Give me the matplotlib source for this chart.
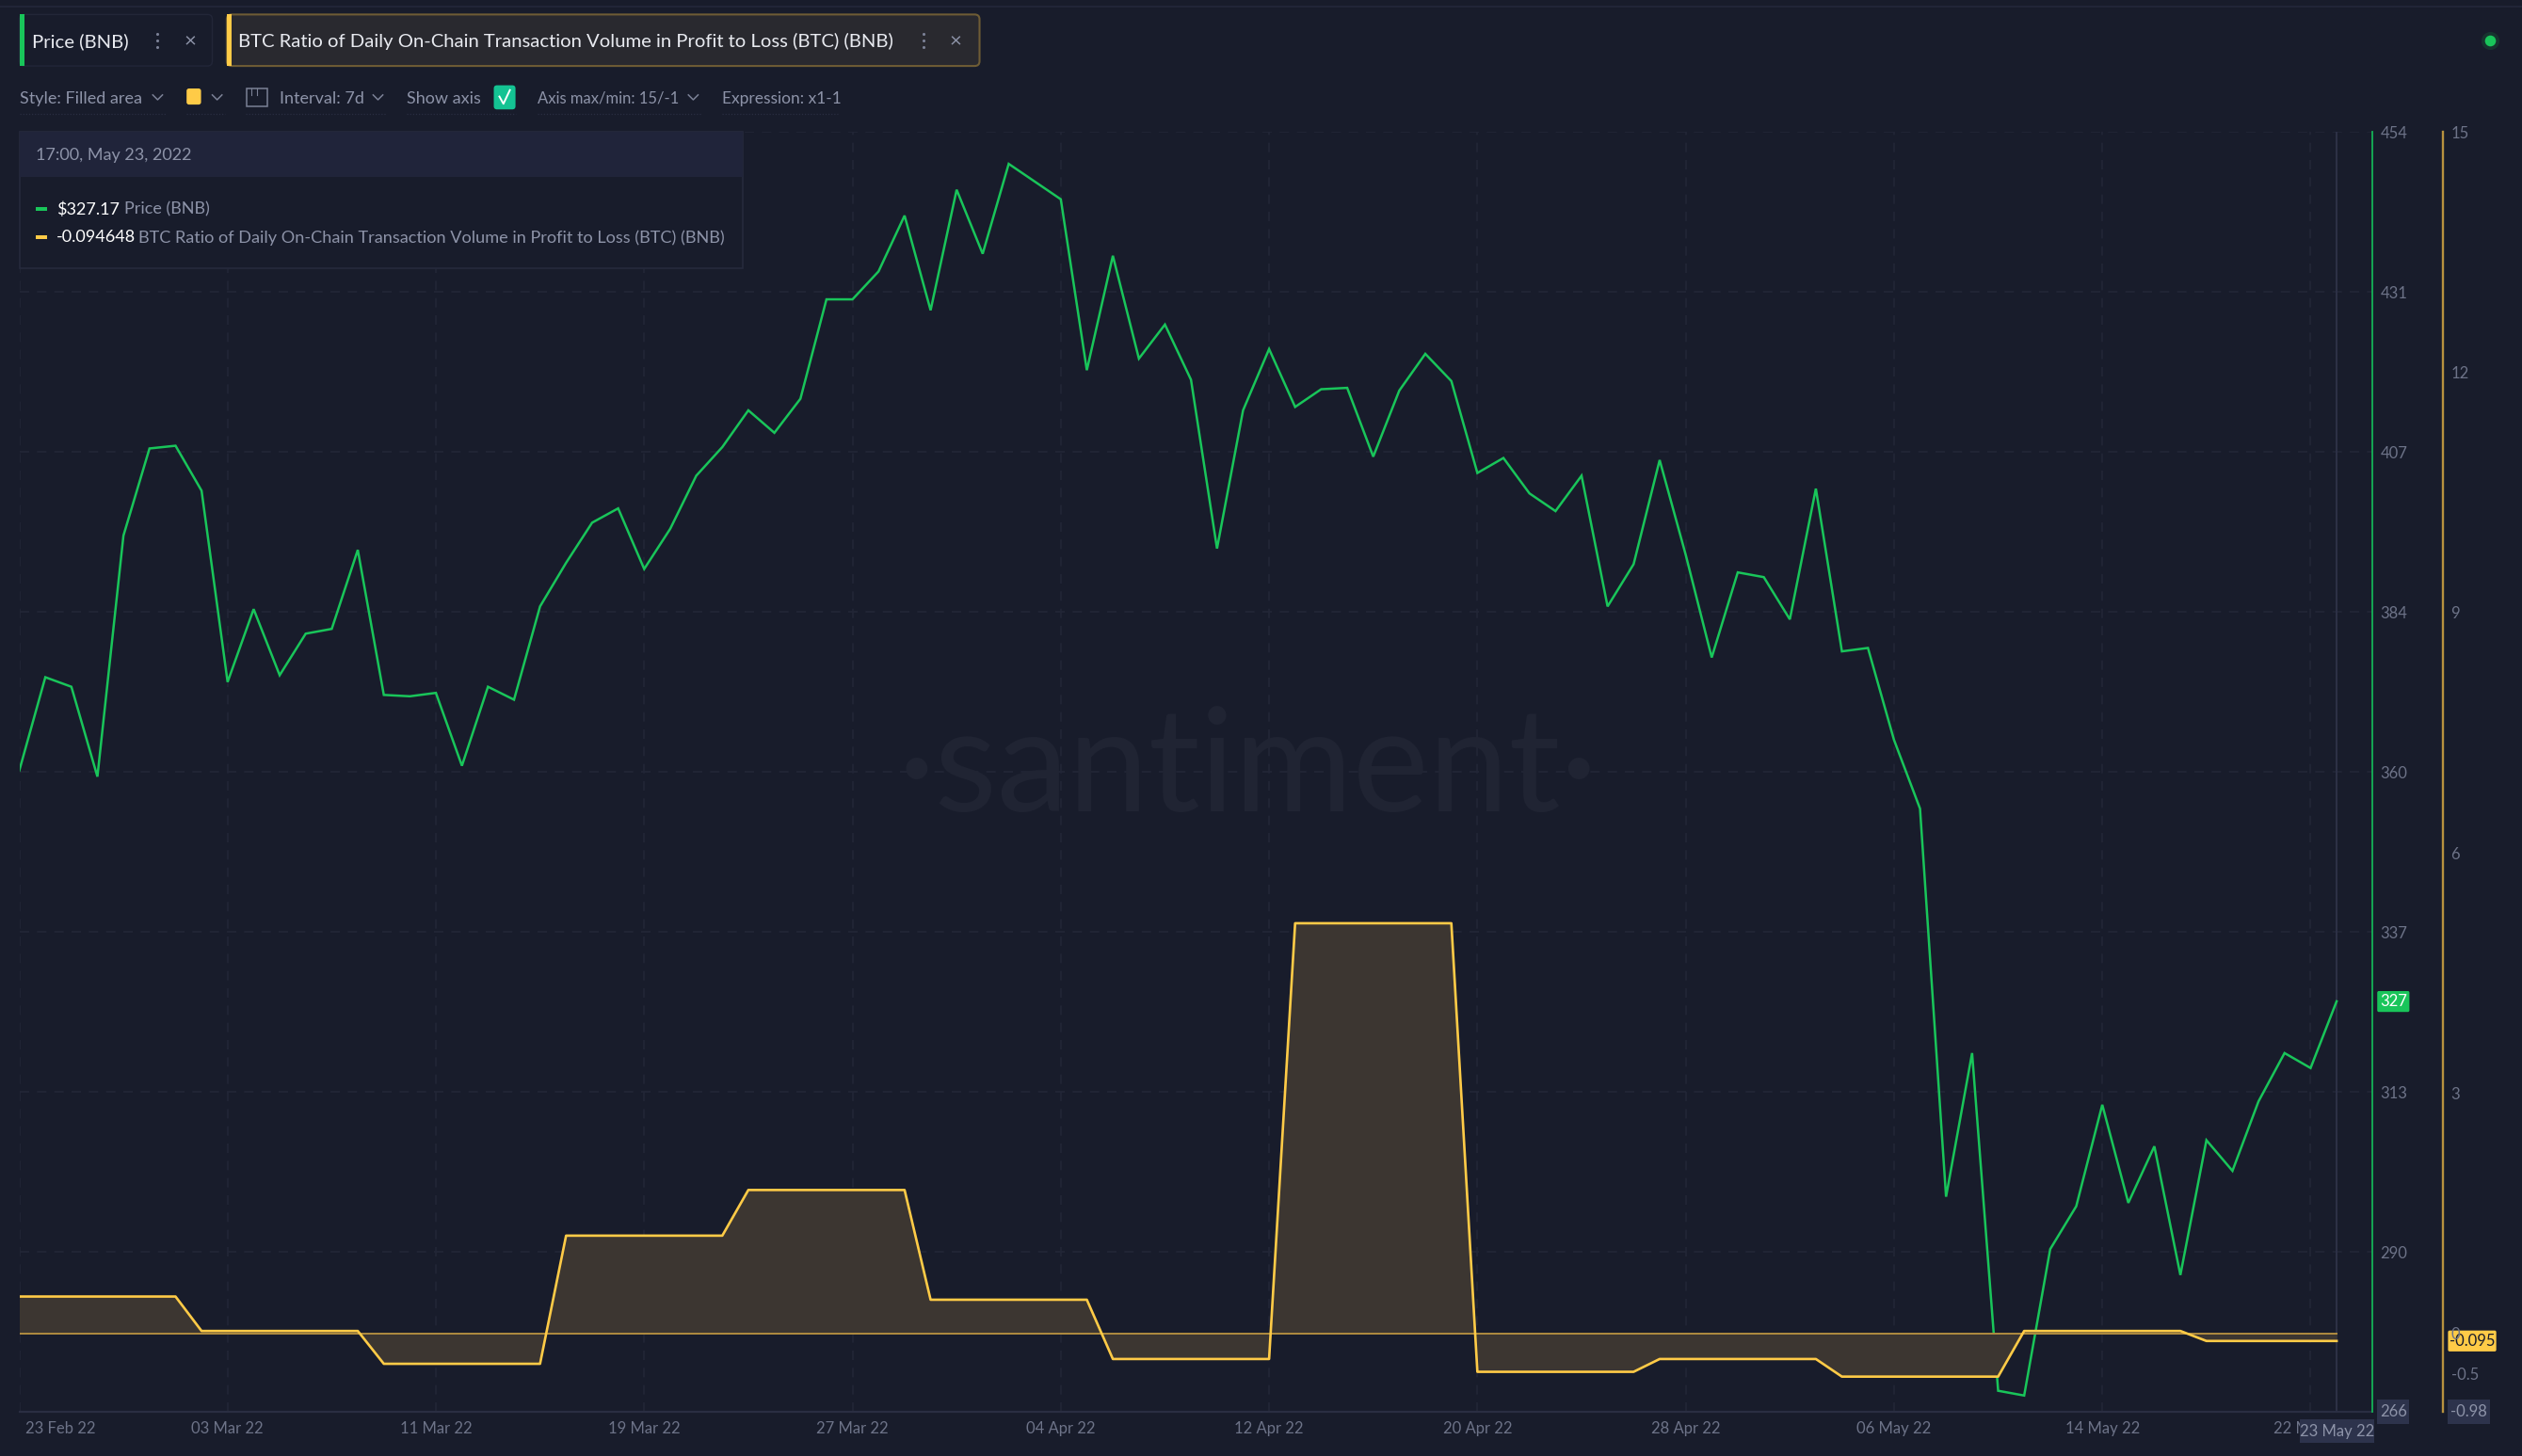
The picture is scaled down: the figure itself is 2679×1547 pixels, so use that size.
import matplotlib
matplotlib.use('Agg')
import matplotlib.pyplot as plt
from matplotlib.patches import FancyBboxPatch, Rectangle
from matplotlib.transforms import ScaledTranslation
import numpy as np
import pandas as pd

plt.rcParams['font.family'] = ['Lato', 'Liberation Sans', 'DejaVu Sans']

# daily BNB price
price = [360.2, 373.9, 372.5, 359.3, 394.7, 407.5, 407.9, 401.3, 373.2, 383.9,
         374.2, 380.3, 381.0, 392.6, 371.3, 371.1, 371.6, 360.9, 372.5, 370.6,
         384.3, 390.7, 396.6, 398.7, 389.8, 395.7, 403.5, 407.7, 413.1, 409.8,
         414.8, 429.4, 429.4, 433.5, 441.7, 427.8, 445.5, 436.1, 449.3, 446.7,
         444.1, 419.0, 435.8, 420.7, 425.7, 417.6, 392.8, 413.1, 422.1, 413.6,
         416.2, 416.4, 406.3, 416.0, 421.4, 417.4, 403.9, 406.1, 400.9, 398.3,
         403.5, 384.3, 390.5, 405.8, 391.9, 376.8, 389.3, 388.6, 382.4, 401.6,
         377.7, 378.2, 364.7, 354.6, 297.6, 318.7, 269.1, 268.4, 289.9, 296.2,
         311.1, 296.7, 305.0, 286.1, 305.9, 301.4, 311.6, 318.7, 316.5, 326.3]
# weekly ratio values (interval 7d, expression x1-1)
ratio_weekly = [0.46, 0.03, -0.38, 1.22, 1.79, 0.42, -0.32, 5.12, -0.48, -0.32, -0.54, 0.03, -0.095]

dates = pd.date_range('2022-02-23', periods=len(price), freq='D')
ratio = np.repeat(ratio_weekly, 7)[:len(price)]

price_ticks = [454, 430.5, 407, 383.5, 360, 336.5, 313, 289.5]
price_labels = ['454', '431', '407', '384', '360', '337', '313', '290']
ratio_ticks = [15, 12, 9, 6, 3, 0, -0.5]
ratio_labels = ['15', '12', '9', '6', '3', '0', '-0.5']
date_ticks = pd.date_range('2022-02-23', '2022-05-23', freq='8D')
date_labels = [d.strftime('%d %b %y') for d in date_ticks]

BG = '#181c2b'
GRID = '#222637'
TXT = '#6d7388'
GREEN = '#19c55a'
YELLOW = '#ffcb47'
W, H = 2679, 1547
S = W / 1568  # the chrome below is laid out in 1568 wide coordinates

fig = plt.figure(figsize=(W / 100, H / 100), dpi=100, facecolor=BG)
ax = fig.add_axes([12 * S / W, 1 - 878 * S / H, (1475 - 12) * S / W, (878 - 82) * S / H], facecolor=BG)
ax2 = ax.twinx()
ax2.set_zorder(ax.get_zorder() + 1)
ax2.patch.set_visible(False)

ax.set_xlim(dates[0], dates[-1] + pd.Timedelta(hours=33))
ax.set_ylim(266, 454)
ax2.set_ylim(-0.98, 15)

ax.plot(dates, price, color=GREEN, lw=1.8, solid_joinstyle='miter', zorder=3)
ax2.fill_between(dates, 0, ratio, color='#3c3631', lw=0, zorder=1)
ax2.plot(dates, np.zeros(len(dates)), color='#b08c40', lw=1.4, zorder=2)
ax2.plot(dates, ratio, color=YELLOW, lw=1.9, zorder=3)
ax.axvline(dates[-1], color='#2d3146', lw=1.4, zorder=2)

ax.yaxis.tick_right()
ax.set_yticks(price_ticks, price_labels)
ax2.set_yticks(ratio_ticks, ratio_labels)
ax.set_xticks(date_ticks, date_labels)
ax.tick_params(axis='y', length=0, pad=6, labelsize=12, labelcolor=TXT)
ax2.tick_params(axis='y', length=0, pad=6, labelsize=12, labelcolor=TXT)
ax.tick_params(axis='x', length=0, pad=7, labelsize=12, labelcolor=TXT)
first = ax.get_xticklabels()[0]
first.set_ha('left')
first.set_transform(first.get_transform() + ScaledTranslation(5 / 72, 0, fig.dpi_scale_trans))
ax.grid(True, color=GRID, lw=1.2, ls=(0, (6, 5)))
ax.set_axisbelow(True)

for a in (ax, ax2):
    for s in ('top', 'left'):
        a.spines[s].set_visible(False)
ax.spines['bottom'].set_color('#2a2e42')
ax.spines['bottom'].set_linewidth(1.6)
ax2.spines['bottom'].set_visible(False)
ax.spines['right'].set_color('#14b257')
ax.spines['right'].set_linewidth(1.3)
ax.spines['right'].set_zorder(5)
ax2.spines['right'].set_visible(True)
ax2.spines['right'].set_position(('outward', 44 * S * 0.72))
ax2.spines['right'].set_color('#b8923f')
ax2.spines['right'].set_linewidth(1.7)

# overlay for the app chrome, in 1568x905 coordinates
ui = fig.add_axes([0, 0, 1, 1], facecolor='none')
ui.set_xlim(0, 1568)
ui.set_ylim(905, 0)
ui.axis('off')


def box(x0, y0, x1, y1, fc, ec='none', lw=1.0, r=0, z=2):
    if r:
        p = FancyBboxPatch((x0, y0), x1 - x0, y1 - y0, boxstyle=f'round,pad=0,rounding_size={r}',
                           fc=fc, ec=ec, lw=lw, zorder=z)
    else:
        p = Rectangle((x0, y0), x1 - x0, y1 - y0, fc=fc, ec=ec, lw=lw, zorder=z)
    ui.add_patch(p)


def label(x, y, s, color='#8d93a8', size=14, ha='left', z=5):
    ui.text(x, y + 0.7, s, color=color, fontsize=size, ha=ha, va='center', zorder=z)


def chevron(x, y, color='#7b8196'):
    ui.plot([x - 3, x, x + 3], [y - 1.5, y + 1.5, y - 1.5], color=color, lw=1.1, zorder=5)


def dots(x, y, color='#7b8196'):
    ui.scatter([x, x, x], [y - 4, y, y + 4], s=5, color=color, lw=0, zorder=5)


# watermark
ui.text(776, 504.5, '\u00b7santiment\u00b7', color='#202433', fontsize=110, ha='center', va='baseline', zorder=0)

ui.plot([0, 1568], [4, 4], color='#23273a', lw=1.2)

# tabs
box(12, 9, 132, 41, BG, ec='#222638', r=3)
box(12, 9, 15, 41, GREEN, z=3)
label(20, 25, 'Price (BNB)', color='#e8eaf0', size=14.6)
dots(98, 25)
label(118, 25, '\u00d7', color='#8d93a8', size=16, ha='center')
box(141, 9, 609, 41, '#29292f', ec='#6e5c35', lw=1.5, r=3)
box(141, 9, 144, 41, YELLOW, z=3)
label(148, 25, 'BTC Ratio of Daily On-Chain Transaction Volume in Profit to Loss (BTC) (BNB)', color='#e8eaf0', size=14.6)
dots(574, 25)
label(594, 25, '\u00d7', color='#8d93a8', size=16, ha='center')

# toolbar
label(12, 60.5, 'Style: Filled area', size=13)
chevron(98, 60.5)
box(116, 55, 125, 65, YELLOW, r=1.5)
chevron(135, 60.5)
box(153.5, 55, 166, 66, 'none', ec='#7b8196', lw=1.1)
ui.plot([156, 156], [55, 59], color='#7b8196', lw=0.8)
ui.plot([160, 160], [55, 59], color='#7b8196', lw=0.8)
label(174, 60.5, 'Interval: 7d', size=13)
chevron(235, 60.5)
label(253, 60.5, 'Show axis', size=13)
box(307, 53, 320.5, 68, '#14c393', r=2)
ui.plot([310.5, 313, 317], [60, 64.5, 56], color='white', lw=1.4, zorder=5)
label(334, 60.5, 'Axis max/min: 15/-1', size=12)
chevron(431, 60.5)
label(449, 60.5, 'Expression: x1-1', size=12.5)
for x0, x1 in [(12, 103), (116, 140), (153, 240), (253, 321), (334, 436), (449, 521)]:
    ui.plot([x0, x1], [71, 71], color='#2a2e42', lw=0.9, ls=(0, (1, 1.5)))

# status dot
ui.scatter([1548], [25], s=190, color='#17342f', lw=0, zorder=4)
ui.scatter([1548], [25], s=70, color=GREEN, lw=0, zorder=5)

# tooltip
box(12, 82, 462, 167, BG, ec='#262a3d', lw=1.2, z=2)
box(12, 82, 462, 110, '#20243a', z=3)
label(22, 96, '17:00, May 23, 2022', size=13)
box(22, 128.5, 29, 131, GREEN)
label(35, 129.5, '$327.17', color='#ffffff', size=13)
label(77, 129.5, 'Price (BNB)', size=13)
box(22, 146, 29, 148.5, YELLOW)
label(35, 147, '-0.094648', color='#ffffff', size=13)
label(86, 147, 'BTC Ratio of Daily On-Chain Transaction Volume in Profit to Loss (BTC) (BNB)', size=13.1)

# value tags on the axes
box(1478, 616, 1498, 629, GREEN, r=1)
label(1488, 622, '327', color='#ffffff', size=12, ha='center')
box(1478, 870, 1498, 885, '#2d334c')
label(1488, 877, '266', color='#8d93a8', size=12, ha='center')
box(1522, 827, 1552, 840, YELLOW, r=1)
label(1537, 833, '-0.095', color='#181c2b', size=12, ha='center')
box(1522, 870, 1548, 885, '#2d334c')
label(1535, 877, '-0.98', color='#8d93a8', size=12, ha='center')
box(1430, 882, 1476, 897, '#2d334c')
label(1453, 889, '23 May 22', color='#8d93a8', size=12, ha='center')

fig.savefig('out.png', dpi=100, facecolor=BG)
